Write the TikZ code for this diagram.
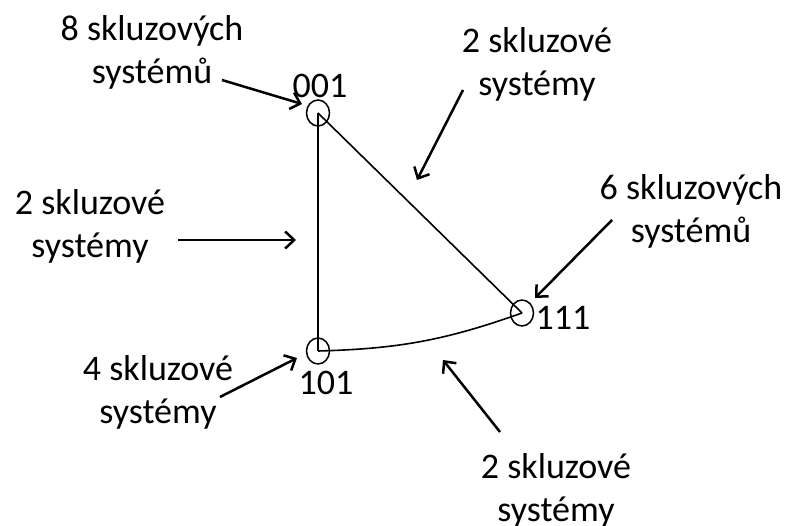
\documentclass[tikz,border=0pt]{standalone}
\usepackage{fontspec}
\setmainfont{Carlito}
\usetikzlibrary{arrows.meta,shapes.geometric}
\begin{document}
\begin{tikzpicture}[x=1pt,y=-1pt,
  lbl/.style={align=center,inner sep=0pt,font=\fontsize{36}{43}\selectfont},
  vlbl/.style={inner sep=0pt,font=\fontsize{36}{43}\selectfont},
  vert/.style={draw,ellipse,minimum width=23pt,minimum height=26pt,inner sep=0pt,line width=1.5pt},
  edge/.style={line width=1.6pt},
  pointer/.style={line width=2.5pt,-{Straight Barb[length=9pt,width=17pt,line width=2.5pt]}}]
\useasboundingbox (0,0) rectangle (789,526);
% vertices of the triangle
\coordinate (p001) at (318,113);
\coordinate (p101) at (318,351);
\coordinate (p111) at (522,313);
\node[vert] (c001) at (p001) {};
\node[vert] (c101) at (p101) {};
\node[vert] (c111) at (p111) {};
\node[vlbl] (t001) at (320,86) {001};
\node[vlbl] (t101) at (326,383) {101};
\node[vlbl] (t111) at (563,318) {111};
% edges
\draw[edge] (p001) -- (p101);
\draw[edge] (p001) -- (p111);
\draw[edge] (p101) to[bend right=9] (p111);
% slip system labels
\node[lbl] (lA) at (152,52) {8 skluzových\\systémů};
\node[lbl] (lB) at (537,64) {2 skluzové\\systémy};
\node[lbl] (lC) at (691,211) {6 skluzových\\systémů};
\node[lbl] (lD) at (90,226) {2 skluzové\\systémy};
\node[lbl] (lE) at (158,392) {4 skluzové\\systémy};
\node[lbl] (lF) at (556,490) {2 skluzové\\systémy};
% pointer arrows
\coordinate (aA) at (222,80);  \coordinate (hA) at (302,104);
\coordinate (aB) at (463,90);  \coordinate (hB) at (417,180);
\coordinate (aC) at (612,220); \coordinate (hC) at (535,298);
\coordinate (aD) at (178,240); \coordinate (hD) at (296,240);
\coordinate (aE) at (220,397); \coordinate (hE) at (297,358);
\coordinate (aF) at (500,432); \coordinate (hF) at (443,360);
\draw[pointer] (aA) -- (hA);
\draw[pointer] (aB) -- (hB);
\draw[pointer] (aC) -- (hC);
\draw[pointer] (aD) -- (hD);
\draw[pointer] (aE) -- (hE);
\draw[pointer] (aF) -- (hF);
\end{tikzpicture}
\end{document}
